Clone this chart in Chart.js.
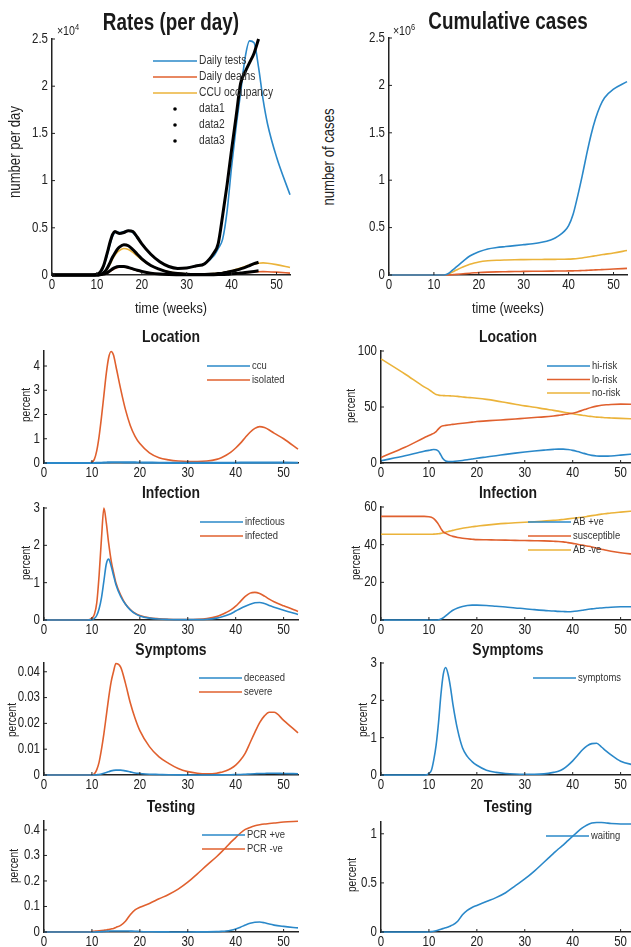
<!DOCTYPE html>
<html lang="en">
<head>
<meta charset="UTF-8">
<title>Epidemic model panels</title>
<script src="https://cdn.jsdelivr.net/npm/chart.js"></script>
<style>
    body {
        margin: 0;
        width: 631px;
        height: 947px;
        overflow: hidden;
        background: #fff;
        position: relative;
        font-family: 'Liberation Sans', Arial, sans-serif;
        color: #222;
    }
    .plot { position: absolute; }
    .lbl {
        position: absolute;
        white-space: nowrap;
    }
    .lbl sup { font-size: 70%; }
</style>
</head>
<body>
<script>
// time axis (weeks)
const weeks = [0, 5, 9, 10, 10.5, 11, 11.5, 12, 12.5, 13, 13.5, 14, 14.5, 15, 16, 17, 18, 19, 20,
    22, 24, 26, 28, 30, 32, 34, 36, 37, 38, 39, 40, 41, 42, 43, 44, 45, 46, 47, 48, 50, 53];

// Rates (per day)
const dailyTests = [0, 0, 0, 50, 150, 400, 900, 1600, 2500, 3400, 4100, 4500, 4550, 4500, 4600, 4700, 4500, 3900, 3300,
    2200, 1400, 900, 700, 750, 950, 1200, 2000, 2800, 3800, 6800, 11500, 15700, 19300, 23000, 24800, 24600, 22000, 18600, 16000, 12500, 8500];
const dailyDeaths = [0, 0, 0, 0, 10, 30, 70, 130, 250, 400, 550, 680, 780, 840, 850, 750, 600, 450, 350,
    180, 100, 50, 25, 15, 15, 20, 35, 45, 55, 75, 100, 140, 180, 230, 280, 320, 350, 360, 350, 300, 200];
const ccuOccupancy = [0, 0, 0, 0, 20, 80, 200, 400, 800, 1200, 1700, 2100, 2400, 2600, 2800, 2700, 2400, 2000, 1600,
    1000, 600, 350, 200, 120, 100, 100, 150, 200, 250, 350, 450, 600, 750, 900, 1050, 1150, 1250, 1280, 1250, 1100, 800];
const data1 = [0, 0, 0, 80, 200, 500, 1000, 1800, 2700, 3600, 4300, 4600, 4500, 4400, 4500, 4700, 4600, 4000, 3300,
    2200, 1400, 900, 700, 750, 950, 1200, 2300, 3300, 6300, 9600, 13300, 16800, 20300, 21500, 22500, 23500, 25000, null, null, null, null];
const data2 = [0, 0, 0, 0, 30, 100, 250, 500, 900, 1400, 1900, 2300, 2700, 2950, 3200, 3100, 2700, 2200, 1700,
    1000, 600, 300, 150, 80, 60, 60, 100, 150, 200, 300, 400, 500, 650, 800, 1000, 1200, 1350, null, null, null, null];
const data3 = [0, 0, 0, 0, 15, 40, 90, 170, 300, 480, 650, 780, 870, 910, 900, 800, 650, 500, 380,
    200, 100, 50, 30, 20, 20, 20, 30, 40, 60, 80, 120, 160, 200, 260, 320, 380, 440, null, null, null, null];

// Cumulative cases
const cumTests = [0, 0, 0, 0, 0, 0, 0, 0, 2000, 10000, 25000, 45000, 65000, 85000, 125000, 165000, 200000, 225000, 245000,
    275000, 290000, 300000, 310000, 320000, 330000, 345000, 370000, 390000, 420000, 460000, 520000, 640000, 830000,
    1040000, 1270000, 1480000, 1650000, 1780000, 1870000, 1960000, 2040000];
const cumDeaths = [0, 0, 0, 0, 0, 0, 0, 0, 0, 500, 1500, 3000, 5000, 7000, 11000, 15000, 19000, 23000, 26000,
    30000, 33000, 35000, 37000, 38000, 39000, 40000, 41000, 41500, 42000, 42500, 43000, 44000, 45000, 47000, 49000,
    51000, 54000, 56000, 58000, 63000, 70000];
const cumCcu = [0, 0, 0, 0, 0, 0, 0, 0, 1000, 5000, 15000, 28000, 40000, 52000, 75000, 95000, 113000, 127000, 138000,
    150000, 156000, 159000, 161000, 162000, 163000, 164000, 165000, 165000, 166000, 166000, 167000, 170000, 174000,
    180000, 187000, 195000, 203000, 211000, 218000, 232000, 258000];

// Location
const locCcu = [0, 0, 0, 0, 0, 0.002, 0.005, 0.01, 0.015, 0.02, 0.025, 0.03, 0.03, 0.03, 0.03, 0.028, 0.025, 0.022, 0.02,
    0.015, 0.01, 0.007, 0.005, 0.004, 0.003, 0.003, 0.004, 0.005, 0.006, 0.008, 0.01, 0.012, 0.014, 0.015, 0.016, 0.016, 0.016, 0.015, 0.014, 0.012, 0.01];
const locIsolated = [0, 0, 0, 0.03, 0.15, 0.5, 1.1, 1.9, 2.8, 3.7, 4.35, 4.6, 4.45, 4.0, 3.05, 2.2, 1.55, 1.1, 0.8,
    0.42, 0.22, 0.13, 0.08, 0.06, 0.06, 0.08, 0.15, 0.22, 0.32, 0.45, 0.62, 0.82, 1.05, 1.27, 1.43, 1.5, 1.46, 1.36, 1.23, 1.0, 0.57];
const hiRisk = [2, 6.5, 10.5, 11.3, 11.7, 12, 11.8, 10.5, 7, 3.5, 1.8, 1.3, 1.3, 1.4, 1.8, 2.3, 2.9, 3.6, 4.3,
    5.4, 6.5, 7.7, 8.8, 9.8, 10.7, 11.5, 12.2, 12.4, 12.4, 12, 11.3, 10.2, 9, 7.8, 6.8, 6.3, 6.1, 6.1, 6.3, 7, 8.2];
const loRisk = [5, 14, 22.5, 24.5, 25.5, 26.5, 28, 30.5, 32.5, 33.3, 33.6, 33.9, 34.2, 34.5, 35, 35.5, 36, 36.5, 37,
    37.6, 38.2, 38.7, 39.3, 40, 40.6, 41.2, 42, 42.5, 43.2, 43.8, 44.5, 45.6, 47, 48.5, 49.8, 50.8, 51.5, 52, 52.3, 52.6, 52.4];
const noRisk = [93, 79.5, 68, 65.5, 64, 62.5, 61.2, 60.6, 60.3, 60.2, 60.1, 60, 59.9, 59.8, 59.5, 59, 58.5, 58.2, 57.8,
    56.8, 55.5, 54, 52.5, 51, 49.8, 48.3, 47, 46.3, 45.5, 44.8, 44, 43.3, 42.7, 42, 41.5, 41, 40.7, 40.4, 40.2, 39.8, 39.3];

// Infection
const infectious = [0, 0, 0, 0.01, 0.04, 0.12, 0.3, 0.6, 1.05, 1.5, 1.63, 1.45, 1.2, 0.95, 0.63, 0.42, 0.27, 0.17, 0.11,
    0.05, 0.025, 0.015, 0.01, 0.01, 0.012, 0.02, 0.05, 0.08, 0.12, 0.17, 0.24, 0.31, 0.37, 0.42, 0.46, 0.47, 0.44, 0.39, 0.34, 0.26, 0.15];
const infected = [0, 0, 0, 0.05, 0.15, 0.45, 1.2, 2.2, 3.0, 2.6, 2.05, 1.6, 1.28, 1.0, 0.67, 0.43, 0.28, 0.18, 0.12,
    0.06, 0.035, 0.02, 0.015, 0.015, 0.02, 0.04, 0.09, 0.14, 0.2, 0.27, 0.37, 0.5, 0.63, 0.72, 0.74, 0.71, 0.64, 0.56, 0.49, 0.38, 0.23];
const abPositive = [0, 0, 0, 0, 0, 0, 0, 0.1, 0.5, 1.2, 2.2, 3.3, 4.3, 5.2, 6.4, 7.2, 7.7, 7.9, 7.9,
    7.7, 7.3, 6.9, 6.4, 6, 5.5, 5.1, 4.8, 4.6, 4.5, 4.4, 4.5, 4.8, 5.2, 5.6, 5.9, 6.2, 6.4, 6.6, 6.8, 7, 7.1];
const susceptible = [55, 55, 55, 54.8, 54.5, 53.8, 52.5, 50.8, 48.5, 46.8, 46, 45.4, 44.8, 44.4, 43.8, 43.4, 43.1, 42.9, 42.7,
    42.6, 42.5, 42.4, 42.3, 42.2, 42.1, 42, 41.8, 41.7, 41.5, 41.1, 40.7, 40.2, 39.8, 39.3, 38.8, 38.2, 37.6, 37, 36.5, 35.7, 34.8];
const abNegative = [45.5, 45.5, 45.5, 45.5, 45.5, 45.6, 45.7, 45.8, 46, 46.3, 46.6, 47, 47.3, 47.6, 48.2, 48.7, 49.1, 49.5, 49.8,
    50.4, 50.9, 51.3, 51.6, 51.9, 52.2, 52.5, 52.9, 53.1, 53.4, 53.7, 54, 54.3, 54.6, 55, 55.4, 55.8, 56.2, 56.5, 56.8, 57.3, 58];

// Symptoms
const deceased = [0, 0, 0, 0, 0, 0.0001, 0.0002, 0.0004, 0.0007, 0.001, 0.0013, 0.0016, 0.0018, 0.0019, 0.0019, 0.0016, 0.0012, 0.0008, 0.0006,
    0.0003, 0.0002, 0.0001, 0.00005, 0.00003, 0.00002, 0.00002, 0.00003, 0.00005, 0.00008, 0.0001, 0.00015, 0.0002, 0.0003, 0.0004, 0.0005,
    0.0006, 0.0006, 0.0007, 0.0007, 0.0006, 0.0005];
const severe = [0, 0, 0, 0, 0.0005, 0.002, 0.005, 0.01, 0.016, 0.023, 0.03, 0.036, 0.04, 0.0432, 0.0418, 0.0355, 0.028, 0.022, 0.0172,
    0.011, 0.007, 0.0045, 0.0025, 0.0013, 0.0007, 0.0005, 0.0007, 0.0011, 0.0016, 0.0025, 0.0038, 0.0058, 0.0085, 0.0125, 0.0165,
    0.0203, 0.0229, 0.0243, 0.0243, 0.0212, 0.0163];
const symptoms = [0, 0, 0, 0.04, 0.12, 0.4, 0.8, 1.4, 2.15, 2.7, 2.88, 2.7, 2.35, 1.9, 1.2, 0.73, 0.5, 0.36, 0.26,
    0.13, 0.07, 0.04, 0.025, 0.02, 0.02, 0.03, 0.07, 0.1, 0.16, 0.26, 0.38, 0.52, 0.67, 0.78, 0.84, 0.85, 0.75, 0.64, 0.54, 0.37, 0.26];

// Testing
const pcrPositive = [0, 0, 0, 0, 0, 0.0005, 0.001, 0.0015, 0.002, 0.003, 0.0035, 0.004, 0.004, 0.004, 0.004, 0.004, 0.0035, 0.003, 0.002,
    0.001, 0.0005, 0.0003, 0.0002, 0.0002, 0.0003, 0.0006, 0.0015, 0.0025, 0.004, 0.007, 0.012, 0.019, 0.027, 0.034, 0.038,
    0.039, 0.036, 0.031, 0.027, 0.022, 0.016];
const pcrNegative = [0, 0, 0, 0.002, 0.003, 0.004, 0.005, 0.006, 0.007, 0.008, 0.01, 0.012, 0.014, 0.018, 0.026, 0.042, 0.068, 0.087, 0.097,
    0.112, 0.13, 0.147, 0.168, 0.195, 0.228, 0.262, 0.295, 0.313, 0.332, 0.352, 0.37, 0.388, 0.402, 0.41, 0.416, 0.42, 0.423,
    0.425, 0.427, 0.431, 0.434];
const waiting = [0, 0, 0, 0.002, 0.004, 0.008, 0.013, 0.02, 0.028, 0.036, 0.044, 0.052, 0.062, 0.072, 0.11, 0.175, 0.22, 0.25, 0.27,
    0.31, 0.35, 0.4, 0.47, 0.54, 0.62, 0.71, 0.8, 0.845, 0.885, 0.93, 0.975, 1.02, 1.06, 1.09, 1.11, 1.115, 1.115, 1.11, 1.105, 1.1, 1.1];

const BLUE = '#2a88c9', RED = '#e0602e', YELLOW = '#ebb33a', BLACK = '#000';
const FONT = "'Liberation Sans', Arial, sans-serif";
const INK = '#222';
const SQUEEZE = 0.82;   // the figure text is narrow, squeeze it horizontally

Chart.defaults.font.family = FONT;
Chart.defaults.color = INK;

function narrowText(ctx, s, x, y) {
    ctx.save();
    ctx.translate(x, y);
    ctx.scale(SQUEEZE, 1);
    ctx.fillText(s, 0, 0);
    ctx.restore();
}

function trim(v) {
    return String(Math.round(v * 1e6) / 1e6);
}

// MATLAB style legend: short line (or dot) followed by the label, no box
const matLegend = {
    id: 'matLegend',
    afterDatasetsDraw(chart, args, opts) {
        if (opts.x == null) return;
        const { ctx, chartArea } = chart;
        const x0 = chartArea.left + opts.x - opts.box[0];
        let y = chartArea.top + opts.y - opts.box[1];
        ctx.save();
        ctx.font = opts.size + 'px ' + FONT;
        ctx.textBaseline = 'middle';
        ctx.textAlign = 'left';
        chart.data.datasets.forEach(ds => {
            ctx.strokeStyle = ds.borderColor;
            ctx.fillStyle = ds.borderColor;
            if (ds.dot) {
                ctx.beginPath();
                ctx.arc(x0 + opts.len / 2, y, 1.8, 0, Math.PI * 2);
                ctx.fill();
            } else {
                ctx.lineWidth = 1.6;
                ctx.beginPath();
                ctx.moveTo(x0, y);
                ctx.lineTo(x0 + opts.len, y);
                ctx.stroke();
            }
            ctx.fillStyle = '#333';
            narrowText(ctx, ds.label, x0 + opts.len + 2, y);
            y += opts.gap;
        });
        ctx.restore();
    }
};

// tick labels and small inward tick marks, placed from the chart's own scales
const matTicks = {
    id: 'matTicks',
    afterDraw(chart, args, opts) {
        const { ctx, chartArea: a, scales } = chart;
        ctx.save();
        ctx.fillStyle = INK;
        ctx.strokeStyle = INK;
        ctx.lineWidth = 1;
        ctx.font = '14px ' + FONT;
        ctx.textAlign = 'center';
        ctx.textBaseline = 'top';
        scales.x.ticks.forEach(t => {
            const px = scales.x.getPixelForValue(t.value);
            ctx.beginPath();
            ctx.moveTo(px, a.bottom);
            ctx.lineTo(px, a.bottom - 3);
            ctx.stroke();
            narrowText(ctx, trim(t.value), px, a.bottom + 3);
        });
        ctx.textAlign = 'right';
        ctx.textBaseline = 'middle';
        scales.y.ticks.forEach(t => {
            const py = scales.y.getPixelForValue(t.value);
            ctx.beginPath();
            ctx.moveTo(a.left, py);
            ctx.lineTo(a.left + 3, py);
            ctx.stroke();
            narrowText(ctx, trim(t.value / opts.scale), a.left - 4, py);
        });
        ctx.restore();
    }
};

function toPoints(vals) {
    return weeks.map((w, i) => ({ x: w, y: vals[i] }));
}

function panel(p) {
    const [l, t, r, b] = p.box;
    const padL = 44, padT = 8, padR = 8, padB = 30;
    const div = document.createElement('div');
    div.className = 'plot';
    div.style.left = (l - padL) + 'px';
    div.style.top = (t - padT) + 'px';
    div.style.width = (r - l + padL + padR) + 'px';
    div.style.height = (b - t + padT + padB) + 'px';
    const cv = document.createElement('canvas');
    div.appendChild(cv);
    document.body.appendChild(div);

    const axisBorder = { display: true, color: INK, width: 1.5 };
    new Chart(cv, {
        type: 'line',
        data: {
            datasets: p.series.map(s => ({
                label: s.label,
                data: toPoints(s.data),
                borderColor: s.color,
                backgroundColor: s.color,
                borderWidth: s.width || 1.6,
                pointRadius: 0,
                cubicInterpolationMode: 'monotone',
                order: s.color === BLACK ? 0 : 1,
                clip: 4,
                dot: s.dot
            }))
        },
        options: {
            responsive: true,
            maintainAspectRatio: false,
            animation: false,
            layout: { padding: { top: padT, right: padR } },
            plugins: {
                legend: { display: false },
                tooltip: { enabled: false },
                matLegend: p.legend ? Object.assign({ box: p.box, len: 43, size: 11.5 }, p.legend) : {},
                matTicks: { scale: p.yscale || 1 }
            },
            scales: {
                x: {
                    type: 'linear', min: 0, max: 53,
                    ticks: { stepSize: 10, includeBounds: false, display: false },
                    grid: { display: false, drawTicks: false },
                    border: axisBorder,
                    afterFit: s => { s.height = padB; }
                },
                y: {
                    min: 0, max: p.ymax,
                    ticks: { stepSize: p.ystep, includeBounds: false, display: false },
                    grid: { display: false, drawTicks: false },
                    border: axisBorder,
                    afterFit: s => { s.width = padL; }
                }
            }
        },
        plugins: [matLegend, matTicks]
    });
}

const LEFT = 44, LEFT_R = 298, RIGHT = 381, RIGHT_R = 635;

panel({
    box: [52, 39, 290, 275], ymax: 25000, ystep: 5000, yscale: 1e4,
    series: [
        { label: 'Daily tests', data: dailyTests, color: BLUE },
        { label: 'Daily deaths', data: dailyDeaths, color: RED },
        { label: 'CCU occupancy', data: ccuOccupancy, color: YELLOW },
        { label: 'data1', data: data1, color: BLACK, width: 3, dot: true },
        { label: 'data2', data: data2, color: BLACK, width: 3, dot: true },
        { label: 'data3', data: data3, color: BLACK, width: 3, dot: true }
    ],
    legend: { x: 153, y: 61, gap: 16, len: 44, size: 12.5 }
});

panel({
    box: [389, 38, 627, 275], ymax: 2.5e6, ystep: 5e5, yscale: 1e6,
    series: [
        { label: 'Cumulative tests', data: cumTests, color: BLUE },
        { label: 'Cumulative deaths', data: cumDeaths, color: RED },
        { label: 'Cumulative CCU', data: cumCcu, color: YELLOW }
    ]
});

panel({
    box: [LEFT, 351, LEFT_R, 463], ymax: 4.62, ystep: 1,
    series: [
        { label: 'ccu', data: locCcu, color: BLUE, width: 2.2 },
        { label: 'isolated', data: locIsolated, color: RED }
    ],
    legend: { x: 207, y: 366, gap: 14 }
});

panel({
    box: [RIGHT, 351, RIGHT_R, 463], ymax: 100, ystep: 50,
    series: [
        { label: 'hi-risk', data: hiRisk, color: BLUE },
        { label: 'lo-risk', data: loRisk, color: RED },
        { label: 'no-risk', data: noRisk, color: YELLOW }
    ],
    legend: { x: 547, y: 366, gap: 13.5 }
});

panel({
    box: [LEFT, 508, LEFT_R, 620], ymax: 3, ystep: 1,
    series: [
        { label: 'infectious', data: infectious, color: BLUE },
        { label: 'infected', data: infected, color: RED }
    ],
    legend: { x: 200, y: 522, gap: 14 }
});

panel({
    box: [RIGHT, 507, RIGHT_R, 620], ymax: 60, ystep: 20,
    series: [
        { label: 'AB +ve', data: abPositive, color: BLUE },
        { label: 'susceptible', data: susceptible, color: RED },
        { label: 'AB -ve', data: abNegative, color: YELLOW }
    ],
    legend: { x: 528, y: 522, gap: 14 }
});

panel({
    box: [LEFT, 663, LEFT_R, 775], ymax: 0.0434, ystep: 0.01,
    series: [
        { label: 'deceased', data: deceased, color: BLUE },
        { label: 'severe', data: severe, color: RED }
    ],
    legend: { x: 199, y: 678, gap: 14 }
});

panel({
    box: [RIGHT, 663, RIGHT_R, 775], ymax: 3, ystep: 1,
    series: [
        { label: 'symptoms', data: symptoms, color: BLUE }
    ],
    legend: { x: 533, y: 678, gap: 14 }
});

panel({
    box: [LEFT, 821, LEFT_R, 932], ymax: 0.435, ystep: 0.1,
    series: [
        { label: 'PCR +ve', data: pcrPositive, color: BLUE },
        { label: 'PCR -ve', data: pcrNegative, color: RED }
    ],
    legend: { x: 202, y: 835, gap: 14 }
});

panel({
    box: [RIGHT, 822, RIGHT_R, 932], ymax: 1.12, ystep: 0.5,
    series: [
        { label: 'waiting', data: waiting, color: BLUE }
    ],
    legend: { x: 546, y: 836, gap: 14 }
});

// titles and axis labels
const labels = [
    { t: 'Rates (per day)', x: 171, y: 22, s: 23, b: 1 },
    { t: 'Cumulative cases', x: 508, y: 21, s: 23, b: 1 },
    { h: '&times;10<sup>4</sup>', x: 68, y: 30, s: 13 },
    { h: '&times;10<sup>6</sup>', x: 404, y: 30, s: 13 },
    { t: 'number per day', x: 15, y: 152, s: 16, r: 1 },
    { t: 'number of cases', x: 329, y: 157, s: 16, r: 1 },
    { t: 'time (weeks)', x: 171, y: 308, s: 15.5 },
    { t: 'time (weeks)', x: 508, y: 308, s: 15.5 },
    { t: 'Location', x: 171, y: 337, s: 17, b: 1 },
    { t: 'Location', x: 508, y: 337, s: 17, b: 1 },
    { t: 'Infection', x: 171, y: 493, s: 17, b: 1 },
    { t: 'Infection', x: 508, y: 493, s: 17, b: 1 },
    { t: 'Symptoms', x: 171, y: 650, s: 17, b: 1 },
    { t: 'Symptoms', x: 508, y: 650, s: 17, b: 1 },
    { t: 'Testing', x: 171, y: 807, s: 17, b: 1 },
    { t: 'Testing', x: 508, y: 807, s: 17, b: 1 },
    { t: 'percent', x: 26, y: 405, s: 12.5, r: 1 },
    { t: 'percent', x: 351, y: 406, s: 12.5, r: 1 },
    { t: 'percent', x: 26, y: 563, s: 12.5, r: 1 },
    { t: 'percent', x: 356, y: 563, s: 12.5, r: 1 },
    { t: 'percent', x: 12, y: 720, s: 12.5, r: 1 },
    { t: 'percent', x: 363, y: 720, s: 12.5, r: 1 },
    { t: 'percent', x: 14, y: 866, s: 12.5, r: 1 },
    { t: 'percent', x: 352, y: 875, s: 12.5, r: 1 }
];

labels.forEach(d => {
    const el = document.createElement('div');
    el.className = 'lbl';
    if (d.h) el.innerHTML = d.h; else el.textContent = d.t;
    el.style.left = d.x + 'px';
    el.style.top = d.y + 'px';
    el.style.fontSize = d.s + 'px';
    if (d.b) { el.style.fontWeight = 'bold'; el.style.color = '#1a1a1a'; }
    el.style.transform = 'translate(-50%, -50%)' + (d.r ? ' rotate(-90deg)' : '') + ' scaleX(' + SQUEEZE + ')';
    document.body.appendChild(el);
});
</script>
</body>
</html>
